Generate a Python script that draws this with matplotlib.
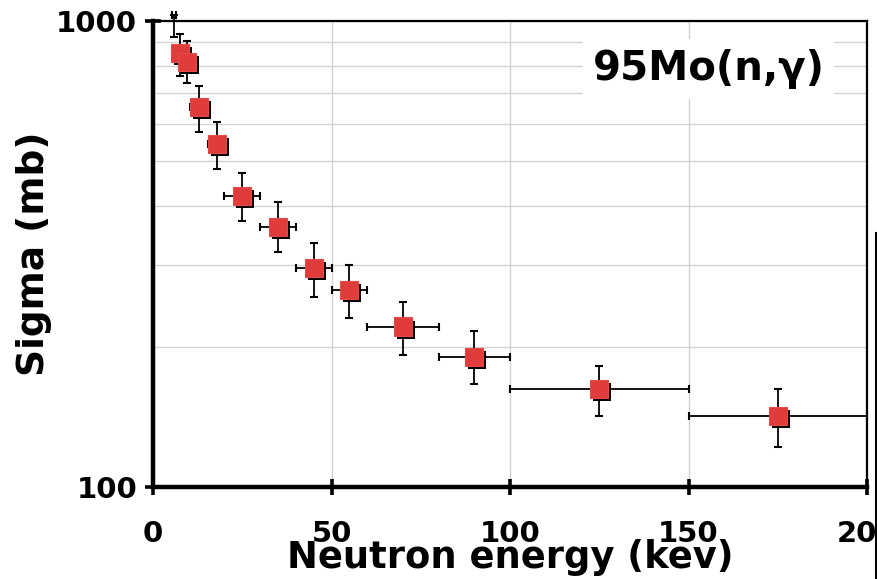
import matplotlib
matplotlib.use("Agg")
import matplotlib.pyplot as plt
import matplotlib.patheffects as pe
from matplotlib.lines import Line2D
import numpy as np

plt.rcParams['font.family'] = ['DejaVu Sans']
plt.rcParams['font.weight'] = 'bold'

# ---- data ----
energy     = [5.9, 7.6, 9.6, 12.8, 17.8, 25, 35, 45, 55, 70, 90, 125, 175]
energy_err = [0.6, 1.0, 1.0, 2.5, 2.5, 5, 5, 5, 5, 10, 10, 25, 25]
sigma      = [1030, 852, 818, 653, 544, 422, 362, 295, 265, 221, 190, 162, 142]
sigma_lo   = [924, 762, 736, 579, 481, 373, 319, 256, 231, 192, 166, 142, 122]
sigma_hi   = [1032, 938, 907, 725, 608, 471, 408, 334, 299, 250, 216, 182, 162]

xticks = [0, 50, 100, 150, 200]
xtick_labels = ['0', '50', '100', '150', '200']
yticks = [100, 1000]
ytick_labels = ['100', '1000']
title_text = '95Mo(n,\u03b3)'
xlabel_text = 'Neutron energy (kev)'
ylabel_text = 'Sigma (mb)'

W, H = 877, 579
fig = plt.figure(figsize=(W / 100, H / 100), dpi=100)
ax = fig.add_axes([153 / W, 1 - 487 / H, (867 - 153) / W, (487 - 21) / H])

ax.set_xlim(0, 200)
ax.set_yscale('log')
ax.set_ylim(100, 1000)

# grid
ax.set_xticks(xticks)
ax.set_xticklabels(xtick_labels)
ax.set_yticks(yticks)
ax.set_yticklabels(ytick_labels)
ax.yaxis.set_minor_locator(matplotlib.ticker.LogLocator(base=10, subs=np.arange(2, 10)))
ax.yaxis.set_minor_formatter(matplotlib.ticker.NullFormatter())
ax.grid(True, which='both', color='#d2d2d2', linewidth=1.0, zorder=0)
ax.set_axisbelow(True)

ax.tick_params(axis='y', which='minor', length=0)
ax.tick_params(axis='both', which='major', direction='inout', length=11, width=2.6,
               labelsize=21, color='black')
ax.tick_params(axis='y', which='major', pad=6)
ax.tick_params(axis='x', which='major', pad=18)
for lab in ax.get_xticklabels() + ax.get_yticklabels():
    lab.set_fontweight('bold')

for side in ['left', 'bottom']:
    ax.spines[side].set_linewidth(3.2)
for side in ['top', 'right']:
    ax.spines[side].set_linewidth(1.6)

# error bars
x = np.array(energy)
y = np.array(sigma)
yerr = np.vstack([y - np.array(sigma_lo), np.array(sigma_hi) - y])
eb = ax.errorbar(x, y, xerr=energy_err, yerr=yerr, fmt='none', ecolor='black',
                 elinewidth=1.3, capsize=3, capthick=1.5, zorder=3)
for art in eb.lines[1] + eb.lines[2]:
    art.set_clip_on(False)
mask = y <= 1000
ax.plot(x[mask], y[mask], linestyle='none', marker='s', markersize=13,
        markerfacecolor='#e03c3c', markeredgecolor='#e34a4a', markeredgewidth=0.8,
        zorder=4,
        path_effects=[pe.SimplePatchShadow(offset=(2.2, -2.2), shadow_rgbFace='black',
                                           alpha=1.0), pe.Normal()])

# title box
ax.text(0.778, 0.897, title_text, transform=ax.transAxes, ha='center', va='center',
        fontsize=29, fontweight='bold', zorder=5,
        bbox=dict(facecolor='white', edgecolor='none', pad=7))

ax.set_xlabel(xlabel_text, fontsize=26.6, fontweight='bold', labelpad=-6)
ax.set_ylabel(ylabel_text, fontsize=27, fontweight='bold', labelpad=3)

# stray vertical bar at right edge of picture
fig.add_artist(Line2D([876 / W, 876 / W], [0, 1 - 233 / H], transform=fig.transFigure,
                      color='black', linewidth=2.2))

fig.savefig('out.png', dpi=100)
